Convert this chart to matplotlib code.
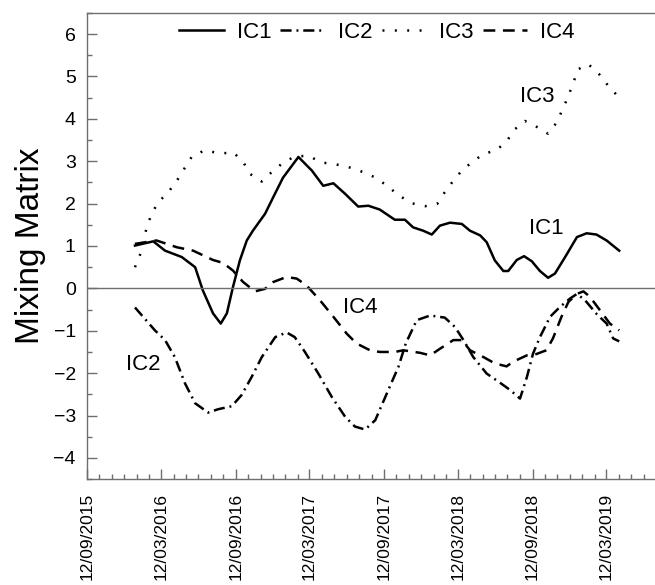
import numpy as np
import pandas as pd
import matplotlib
matplotlib.use("Agg")
import matplotlib.pyplot as plt
import matplotlib.dates as mdates
from matplotlib.ticker import MultipleLocator

plt.rcParams['font.family'] = ['Liberation Sans', 'DejaVu Sans']
plt.rcParams['lines.scale_dashes'] = False

# IC1 (solid)
ic1_dates = ["2016-01-08", "2016-02-22", "2016-03-22", "2016-05-02", "2016-06-04", "2016-06-23",
             "2016-07-18", "2016-08-06", "2016-08-21", "2016-09-05", "2016-09-22", "2016-10-09",
             "2016-10-24", "2016-11-23", "2016-12-13", "2017-01-06", "2017-02-13", "2017-03-18",
             "2017-04-15", "2017-05-10", "2017-06-08", "2017-07-10", "2017-08-04", "2017-09-01",
             "2017-10-08", "2017-11-02", "2017-11-22", "2017-12-17", "2018-01-07", "2018-01-27",
             "2018-02-21", "2018-03-22", "2018-04-11", "2018-05-06", "2018-05-22", "2018-06-11",
             "2018-07-02", "2018-07-14", "2018-08-04", "2018-08-22", "2018-09-10", "2018-09-30",
             "2018-10-20", "2018-11-06", "2018-12-01", "2018-12-30", "2019-01-23", "2019-02-16",
             "2019-03-13", "2019-04-13"]
ic1_vals = [1.01, 1.11, 0.89, 0.74, 0.50, -0.05,
            -0.59, -0.83, -0.59, 0.03, 0.66, 1.13,
            1.36, 1.76, 2.15, 2.61, 3.10, 2.78,
            2.42, 2.48, 2.23, 1.93, 1.95, 1.86,
            1.62, 1.62, 1.44, 1.36, 1.27, 1.48,
            1.55, 1.52, 1.36, 1.25, 1.09, 0.66,
            0.41, 0.41, 0.67, 0.76, 0.64, 0.41,
            0.25, 0.35, 0.74, 1.21, 1.30, 1.27,
            1.13, 0.89]

# IC2 (dash-dot)
ic2_dates = ["2016-01-08", "2016-02-26", "2016-03-22", "2016-04-15", "2016-05-10", "2016-06-04",
             "2016-07-06", "2016-07-31", "2016-09-02", "2016-09-26", "2016-10-21", "2016-11-15",
             "2016-12-18", "2017-01-15", "2017-02-04", "2017-03-01", "2017-04-03", "2017-05-06",
             "2017-06-08", "2017-07-02", "2017-07-27", "2017-08-21", "2017-09-22", "2017-10-17",
             "2017-11-04", "2017-12-01", "2018-01-03", "2018-02-08", "2018-03-05", "2018-03-26",
             "2018-04-19", "2018-05-22", "2018-06-20", "2018-07-19", "2018-08-12", "2018-08-29",
             "2018-09-13", "2018-09-30", "2018-10-25", "2018-11-18", "2018-12-13", "2018-12-30",
             "2019-01-19", "2019-02-16", "2019-03-13", "2019-03-29", "2019-04-13"]
ic2_vals = [-0.45, -0.99, -1.22, -1.62, -2.24, -2.71,
            -2.93, -2.85, -2.78, -2.52, -2.09, -1.62,
            -1.15, -1.04, -1.15, -1.50, -2.01, -2.56,
            -3.03, -3.26, -3.33, -3.11, -2.40, -1.85,
            -1.30, -0.75, -0.64, -0.69, -0.91, -1.22,
            -1.62, -2.01, -2.20, -2.40, -2.60, -2.09,
            -1.54, -1.15, -0.67, -0.44, -0.24, -0.13,
            -0.28, -0.60, -0.83, -1.18, -1.25]

# IC3 (dotted)
ic3_dates = ["2016-01-08", "2016-01-20", "2016-02-06", "2016-02-18", "2016-03-05", "2016-03-30",
             "2016-04-20", "2016-05-10", "2016-05-27", "2016-06-28", "2016-08-04", "2016-09-06",
             "2016-10-01", "2016-10-17", "2016-11-15", "2016-12-09", "2017-01-07", "2017-02-04",
             "2017-03-09", "2017-04-11", "2017-05-14", "2017-06-20", "2017-07-23", "2017-08-20",
             "2017-09-18", "2017-10-17", "2017-11-18", "2017-12-22", "2018-01-20", "2018-02-08",
             "2018-03-01", "2018-03-22", "2018-04-15", "2018-05-14", "2018-06-15", "2018-07-10",
             "2018-07-31", "2018-08-24", "2018-09-17", "2018-10-20", "2018-11-10", "2018-11-25",
             "2018-12-09", "2018-12-21", "2019-01-02", "2019-01-27", "2019-02-23", "2019-03-17",
             "2019-04-11"]
ic3_vals = [0.50, 0.78, 1.44, 1.76, 2.03, 2.27,
            2.54, 2.85, 3.11, 3.26, 3.18, 3.21,
            2.97, 2.70, 2.52, 2.74, 2.97, 3.11,
            3.13, 2.97, 2.93, 2.85, 2.74, 2.62,
            2.43, 2.20, 2.01, 1.94, 1.99, 2.27,
            2.54, 2.78, 2.97, 3.17, 3.26, 3.47,
            3.76, 3.95, 3.84, 3.65, 3.91, 4.23,
            4.54, 4.85, 5.17, 5.29, 5.05, 4.78,
            4.52]

# IC4 (dashed)
ic4_dates = ["2016-01-08", "2016-03-01", "2016-04-20", "2016-05-30", "2016-07-18", "2016-08-12",
             "2016-09-05", "2016-09-30", "2016-10-29", "2016-11-23", "2016-12-13", "2017-01-15",
             "2017-02-09", "2017-03-05", "2017-04-07", "2017-05-10", "2017-06-12", "2017-07-06",
             "2017-08-08", "2017-09-01", "2017-10-08", "2017-10-29", "2017-12-09", "2018-01-03",
             "2018-01-31", "2018-03-01", "2018-03-22", "2018-04-11", "2018-05-14", "2018-06-11",
             "2018-07-10", "2018-07-26", "2018-08-29", "2018-09-21", "2018-10-16", "2018-11-01",
             "2018-11-22", "2018-12-09", "2018-12-30", "2019-01-15", "2019-01-31", "2019-02-25",
             "2019-03-21", "2019-04-13"]
ic4_vals = [1.05, 1.13, 0.97, 0.89, 0.67, 0.60,
            0.42, 0.15, -0.07, -0.01, 0.15, 0.27,
            0.23, 0.07, -0.28, -0.67, -1.07, -1.30,
            -1.46, -1.50, -1.50, -1.46, -1.52, -1.58,
            -1.40, -1.22, -1.22, -1.46, -1.62, -1.77,
            -1.84, -1.73, -1.58, -1.55, -1.46, -1.18,
            -0.67, -0.32, -0.13, -0.07, -0.20, -0.52,
            -0.83, -0.99]

labels = ["IC1", "IC2", "IC3", "IC4"]
label_dates = ["2018-10-15", "2016-01-28", "2018-09-23", "2017-07-14"]
label_vals = [1.41, -1.79, 4.52, -0.45]

grey = "#6e6e6e"
styles = ["-", (0, (8, 3.5, 1.4, 3.5)), (0, (1.4, 7.5)), (0, (8.5, 5.5))]
series = [(ic1_dates, ic1_vals), (ic2_dates, ic2_vals), (ic3_dates, ic3_vals), (ic4_dates, ic4_vals)]

fig = plt.figure(figsize=(6.55, 5.85), dpi=100)
ax = fig.add_axes([0.1328, 0.181, 0.8672, 0.797])

for (d, v), ls, lab in zip(series, styles, labels):
    ax.plot(pd.to_datetime(d), v, color="black", lw=1.8, linestyle=ls, label=lab)

ax.axhline(0, color=grey, lw=1)

for lab, d, v in zip(labels, label_dates, label_vals):
    ax.text(pd.Timestamp(d), v, lab, fontsize=16, ha="center", va="center")

ax.set_xlim(pd.Timestamp("2015-09-12"), pd.Timestamp("2019-07-10"))
ax.set_ylim(-4.5, 6.5)
ax.yaxis.set_major_locator(MultipleLocator(1))
ax.yaxis.set_minor_locator(MultipleLocator(0.5))
ax.xaxis.set_major_locator(mdates.MonthLocator(bymonth=(3, 9), bymonthday=12))
ax.xaxis.set_minor_locator(mdates.MonthLocator(bymonthday=12))
ax.xaxis.set_major_formatter(mdates.DateFormatter("%d/%m/%Y"))

ax.tick_params(which="both", direction="in", color=grey, width=1)
ax.tick_params(which="major", length=7)
ax.tick_params(which="minor", length=3.5)
ax.tick_params(axis="y", labelsize=14, pad=8)
ax.tick_params(axis="x", labelsize=12.5, pad=10, labelrotation=90)

for s in ["left", "top", "bottom"]:
    ax.spines[s].set_color(grey)
    ax.spines[s].set_linewidth(1)
ax.spines["right"].set_visible(False)

ax.set_ylabel("Mixing Matrix", fontsize=24)
ax.yaxis.set_label_coords(-0.072, 0.5)

ax.legend(loc="center", bbox_to_anchor=(0.5106, 0.9586), ncol=4, frameon=False,
          fontsize=16, handlelength=2.0, handletextpad=0.6, columnspacing=0.4)

fig.savefig("out.png", dpi=100)
